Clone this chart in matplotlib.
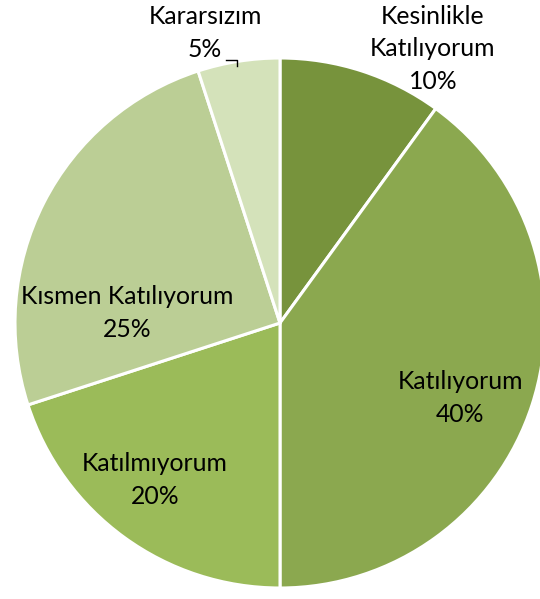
import matplotlib
matplotlib.use("Agg")
import matplotlib.pyplot as plt

categories = ["Kesinlikle\nKatılıyorum", "Katılıyorum", "Katılmıyorum", "Kısmen Katılıyorum", "Kararsızım"]
values = [10, 40, 20, 25, 5]
colors = ["#77933C", "#8BA84F", "#9BBB59", "#BBCE95", "#D4E2BA"]

W, H = 540, 599
R = 265.0
cx, cy = 280, 323  # pixel center (from top)

fig = plt.figure(figsize=(W / 100, H / 100), dpi=100)
ax = fig.add_axes([0, 0, 1, 1])
ax.axis("off")

wedges, _ = ax.pie(values, colors=colors, startangle=90, counterclock=False,
                   radius=1.0, center=(0, 0),
                   wedgeprops=dict(edgecolor="white", linewidth=2.2))
ax.set_aspect("auto")
ax.set_xlim(-cx / R, (W - cx) / R)
ax.set_ylim(-(H - cy) / R, cy / R)

def px(x, y):
    return ((x - cx) / R, (cy - y) / R)

font = dict(family=["Lato", "DejaVu Sans"], fontsize=17.8, color="#000000",
            ha="center", va="center", linespacing=1.5)

label_pos = [(433, 49), (460, 398), (155, 480), (127, 313), (205, 33)]
for cat, v, (x, y) in zip(categories, values, label_pos):
    ax.text(*px(x, y), f"{cat}\n{v}%", **font)

# leader line for Kararsızım
p1 = px(226, 60)
p2 = px(237, 60)
p3 = px(237, 66)
ax.plot([p1[0], p2[0], p3[0]], [p1[1], p2[1], p3[1]], color="#000000", lw=1)

fig.savefig("out.png", dpi=100)
